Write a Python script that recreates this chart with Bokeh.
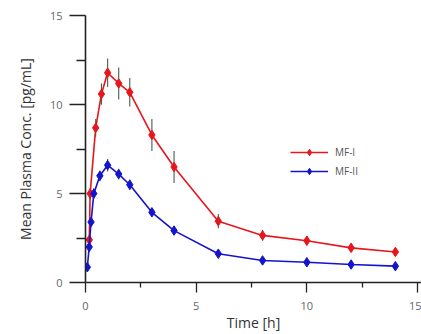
from bokeh.plotting import figure
from bokeh.models import FixedTicker, ColumnDataSource, Legend, LegendItem, Range1d
from bokeh.embed import file_html
from bokeh.resources import INLINE

# ---- data ----
t_mf1 = [0.17, 0.21, 0.46, 0.72, 1.0, 1.5, 2, 3, 4, 6, 8, 10, 12, 14]
c_mf1 = [2.4, 5.0, 8.7, 10.6, 11.8, 11.2, 10.7, 8.3, 6.5, 3.45, 2.65, 2.35, 1.95, 1.72]
e_mf1 = [0.2, 0.3, 0.5, 0.6, 0.8, 0.9, 0.8, 0.9, 0.9, 0.4, 0.3, 0.25, 0.2, 0.15]

t_mf2 = [0.083, 0.167, 0.25, 0.375, 0.65, 1.0, 1.5, 2, 3, 4, 6, 8, 10, 12, 14]
c_mf2 = [0.86, 2.0, 3.4, 5.0, 6.0, 6.6, 6.1, 5.5, 3.95, 2.92, 1.62, 1.24, 1.14, 1.01, 0.92]
e_mf2 = [0.1, 0.2, 0.2, 0.3, 0.3, 0.35, 0.3, 0.3, 0.2, 0.15, 0.1, 0.1, 0.1, 0.1, 0.1]

x_ticks = [0, 5, 10, 15]
x_minor = [2.5, 7.5, 12.5]
y_ticks = [0, 5, 10, 15]
y_minor = [2.5, 7.5, 12.5]

series_names = ["MF-I", "MF-II"]
series_colors = ["#e6161c", "#1414cc"]
err_color = "#4c5a4c"
FONT = "Open Sans"

p = figure(width=421, height=334, output_backend="svg", toolbar_location=None,
           x_range=Range1d(0, 15.18), y_range=Range1d(0, 15.02),
           min_border_left=85, min_border_right=0, min_border_top=15,
           min_border_bottom=52)
p.outline_line_color = None
p.xgrid.visible = False
p.ygrid.visible = False
p.background_fill_color = "white"
p.border_fill_color = "white"

legend_items = []
for name, col, t, c, e in [(series_names[0], series_colors[0], t_mf1, c_mf1, e_mf1),
                           (series_names[1], series_colors[1], t_mf2, c_mf2, e_mf2)]:
    src = ColumnDataSource(dict(t=t, c=c,
                                lo=[a - b for a, b in zip(c, e)],
                                hi=[a + b for a, b in zip(c, e)]))
    ln = p.line("t", "c", source=src, line_color=col, line_width=1.6)
    p.segment(x0="t", y0="lo", x1="t", y1="hi", source=src,
              line_color=err_color, line_width=1.1)
    sc = p.scatter("t", "c", source=src, marker="diamond", size=9.5,
                   fill_color=col, line_color=col)
    legend_items.append(LegendItem(label=name, renderers=[ln, sc]))

legend = Legend(items=legend_items, location=(205, 103), orientation="vertical",
                glyph_width=38, glyph_height=16, spacing=3, padding=0, margin=0,
                label_standoff=7, label_text_font=FONT, label_text_font_size="10px",
                label_text_color="#555555", border_line_color=None,
                background_fill_alpha=0)
p.add_layout(legend, "center")

xa = p.xaxis[0]
xa.ticker = FixedTicker(ticks=x_ticks, minor_ticks=x_minor)
xa.axis_label = "Time [h]"
xa.axis_label_text_font = FONT
xa.axis_label_text_font_size = "14px"
xa.axis_label_text_font_style = "normal"
xa.axis_label_text_color = "#333333"
xa.axis_label_standoff = 0
xa.major_label_text_font = FONT
xa.major_label_text_font_size = "11px"
xa.major_label_text_color = "#666666"
xa.major_label_standoff = 9
xa.axis_line_color = "#222222"
xa.axis_line_width = 1.6
xa.major_tick_line_color = "#222222"
xa.minor_tick_line_color = "#222222"
xa.major_tick_line_width = 1.3
xa.minor_tick_line_width = 1.3
xa.major_tick_in = 0
xa.major_tick_out = 10
xa.minor_tick_in = 0
xa.minor_tick_out = 5

ya = p.yaxis[0]
ya.ticker = FixedTicker(ticks=y_ticks, minor_ticks=y_minor)
ya.axis_label = "Mean Plasma Conc. [pg/mL]"
ya.axis_label_text_font = FONT
ya.axis_label_text_font_size = "14px"
ya.axis_label_text_font_style = "normal"
ya.axis_label_text_color = "#333333"
ya.axis_label_standoff = 12
ya.major_label_text_font = FONT
ya.major_label_text_font_size = "11px"
ya.major_label_text_color = "#666666"
ya.major_label_standoff = 7
ya.axis_line_color = "#222222"
ya.axis_line_width = 1.6
ya.major_tick_line_color = "#222222"
ya.minor_tick_line_color = "#222222"
ya.major_tick_line_width = 1.3
ya.minor_tick_line_width = 1.3
ya.major_tick_in = 0
ya.major_tick_out = 16
ya.minor_tick_in = 0
ya.minor_tick_out = 9

open("out.html", "w").write(file_html(p, INLINE))
